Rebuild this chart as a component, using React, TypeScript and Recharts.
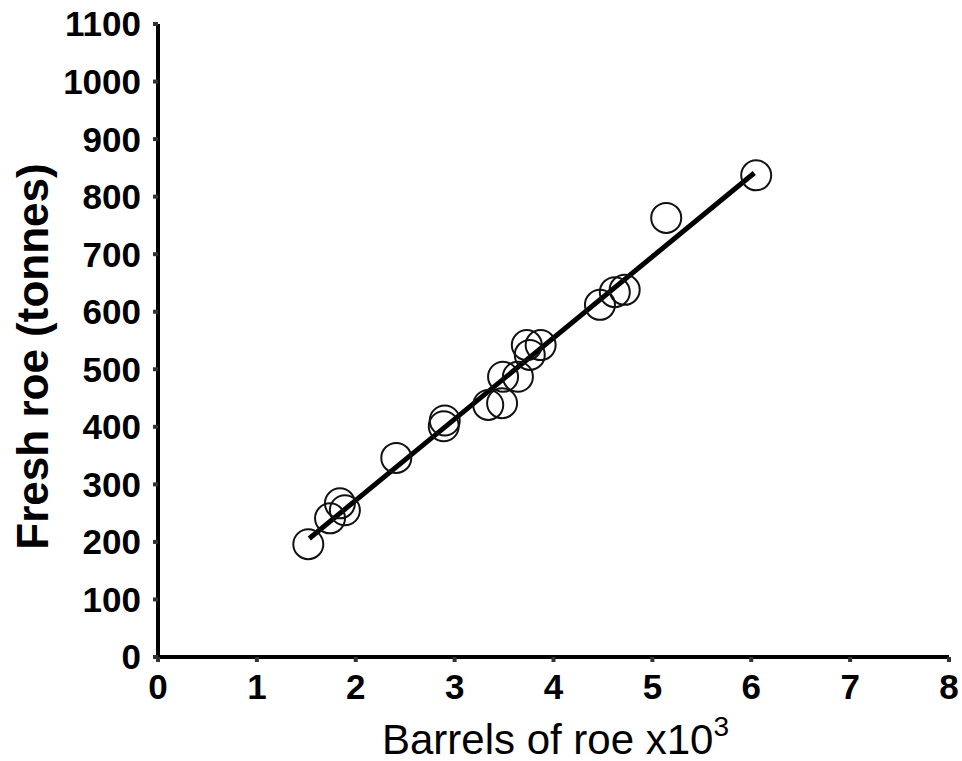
import React from 'react';
import { ScatterChart, Scatter, XAxis, YAxis } from 'recharts';

const barrels = [1.52, 1.74, 1.84, 1.89, 2.41, 2.89, 2.9, 3.34, 3.48, 3.49, 3.64, 3.73, 3.76, 3.87, 4.47, 4.62, 4.72, 5.14, 6.05];
const freshRoe = [196, 241, 267, 255, 346, 401, 411, 438, 441, 487, 487, 542, 525, 542, 612, 634, 638, 763, 837];
const fitX = [1.53, 6.03];
const fitY = [206, 841];
const xTicks = [0, 1, 2, 3, 4, 5, 6, 7, 8];
const yTicks = [0, 100, 200, 300, 400, 500, 600, 700, 800, 900, 1000, 1100];

const points = barrels.map((x, i) => ({ x, y: freshRoe[i] }));
const fitLine = fitX.map((x, i) => ({ x, y: fitY[i] }));

const FONT = '"Liberation Sans", Arial, Helvetica, sans-serif';

const Ring = (p: any) => (
  <circle cx={p.cx} cy={p.cy} r={15} fill="none" stroke="#111" strokeWidth={2} />
);

const YLabel = (props: any) => {
  const vb = props.viewBox || { x: 0, y: 0, width: 0, height: 0 };
  const cx = vb.x + 32;
  const cy = vb.y + vb.height / 2 + 16;
  return (
    <text
      x={cx}
      y={cy}
      transform={`rotate(-90, ${cx}, ${cy})`}
      textAnchor="middle"
      dominantBaseline="central"
      fontFamily={FONT}
      fontWeight="bold"
      fontSize={44}
      fill="#000"
    >
      Fresh roe (tonnes)
    </text>
  );
};

const XLabel = (props: any) => {
  const vb = props.viewBox || { x: 0, y: 0, width: 0, height: 0 };
  const cx = vb.x + vb.width / 2 + 2;
  const by = vb.y + 97;
  return (
    <text x={cx} y={by} textAnchor="middle" fontFamily={FONT} fontSize={42} fill="#000">
      Barrels of roe x10
      <tspan fontSize={28} dy={-18}>3</tspan>
    </text>
  );
};

export default function App() {
  return (
    <div style={{ position: 'absolute', left: 0, top: 0, width: 962, height: 761, background: '#fff', overflow: 'hidden' }}>
      <ScatterChart width={962} height={761} margin={{ top: 24, right: 13, left: 0, bottom: 0 }}>
        <XAxis
          type="number"
          dataKey="x"
          domain={[0, 8]}
          ticks={xTicks}
          interval={0}
          height={104}
          axisLine={{ stroke: '#000', strokeWidth: 4 }}
          tickLine={{ stroke: '#333', strokeWidth: 4 }}
          tickSize={5}
          tickMargin={12}
          tick={{ fill: '#000', fontFamily: FONT, fontWeight: 'bold', fontSize: 35 }}
          label={<XLabel />}
          allowDataOverflow
        />
        <YAxis
          type="number"
          dataKey="y"
          domain={[0, 1100]}
          ticks={yTicks}
          interval={0}
          width={158}
          axisLine={{ stroke: '#000', strokeWidth: 4 }}
          tickLine={{ stroke: '#333', strokeWidth: 4 }}
          tickSize={5}
          tickMargin={12}
          tick={{ fill: '#000', fontFamily: FONT, fontWeight: 'bold', fontSize: 35 }}
          label={<YLabel />}
          allowDataOverflow
        />
        <Scatter
          data={fitLine}
          line={{ stroke: '#000', strokeWidth: 5 }}
          shape={() => <g />}
          isAnimationActive={false}
        />
        <Scatter data={points} shape={Ring} isAnimationActive={false} />
      </ScatterChart>
    </div>
  );
}
